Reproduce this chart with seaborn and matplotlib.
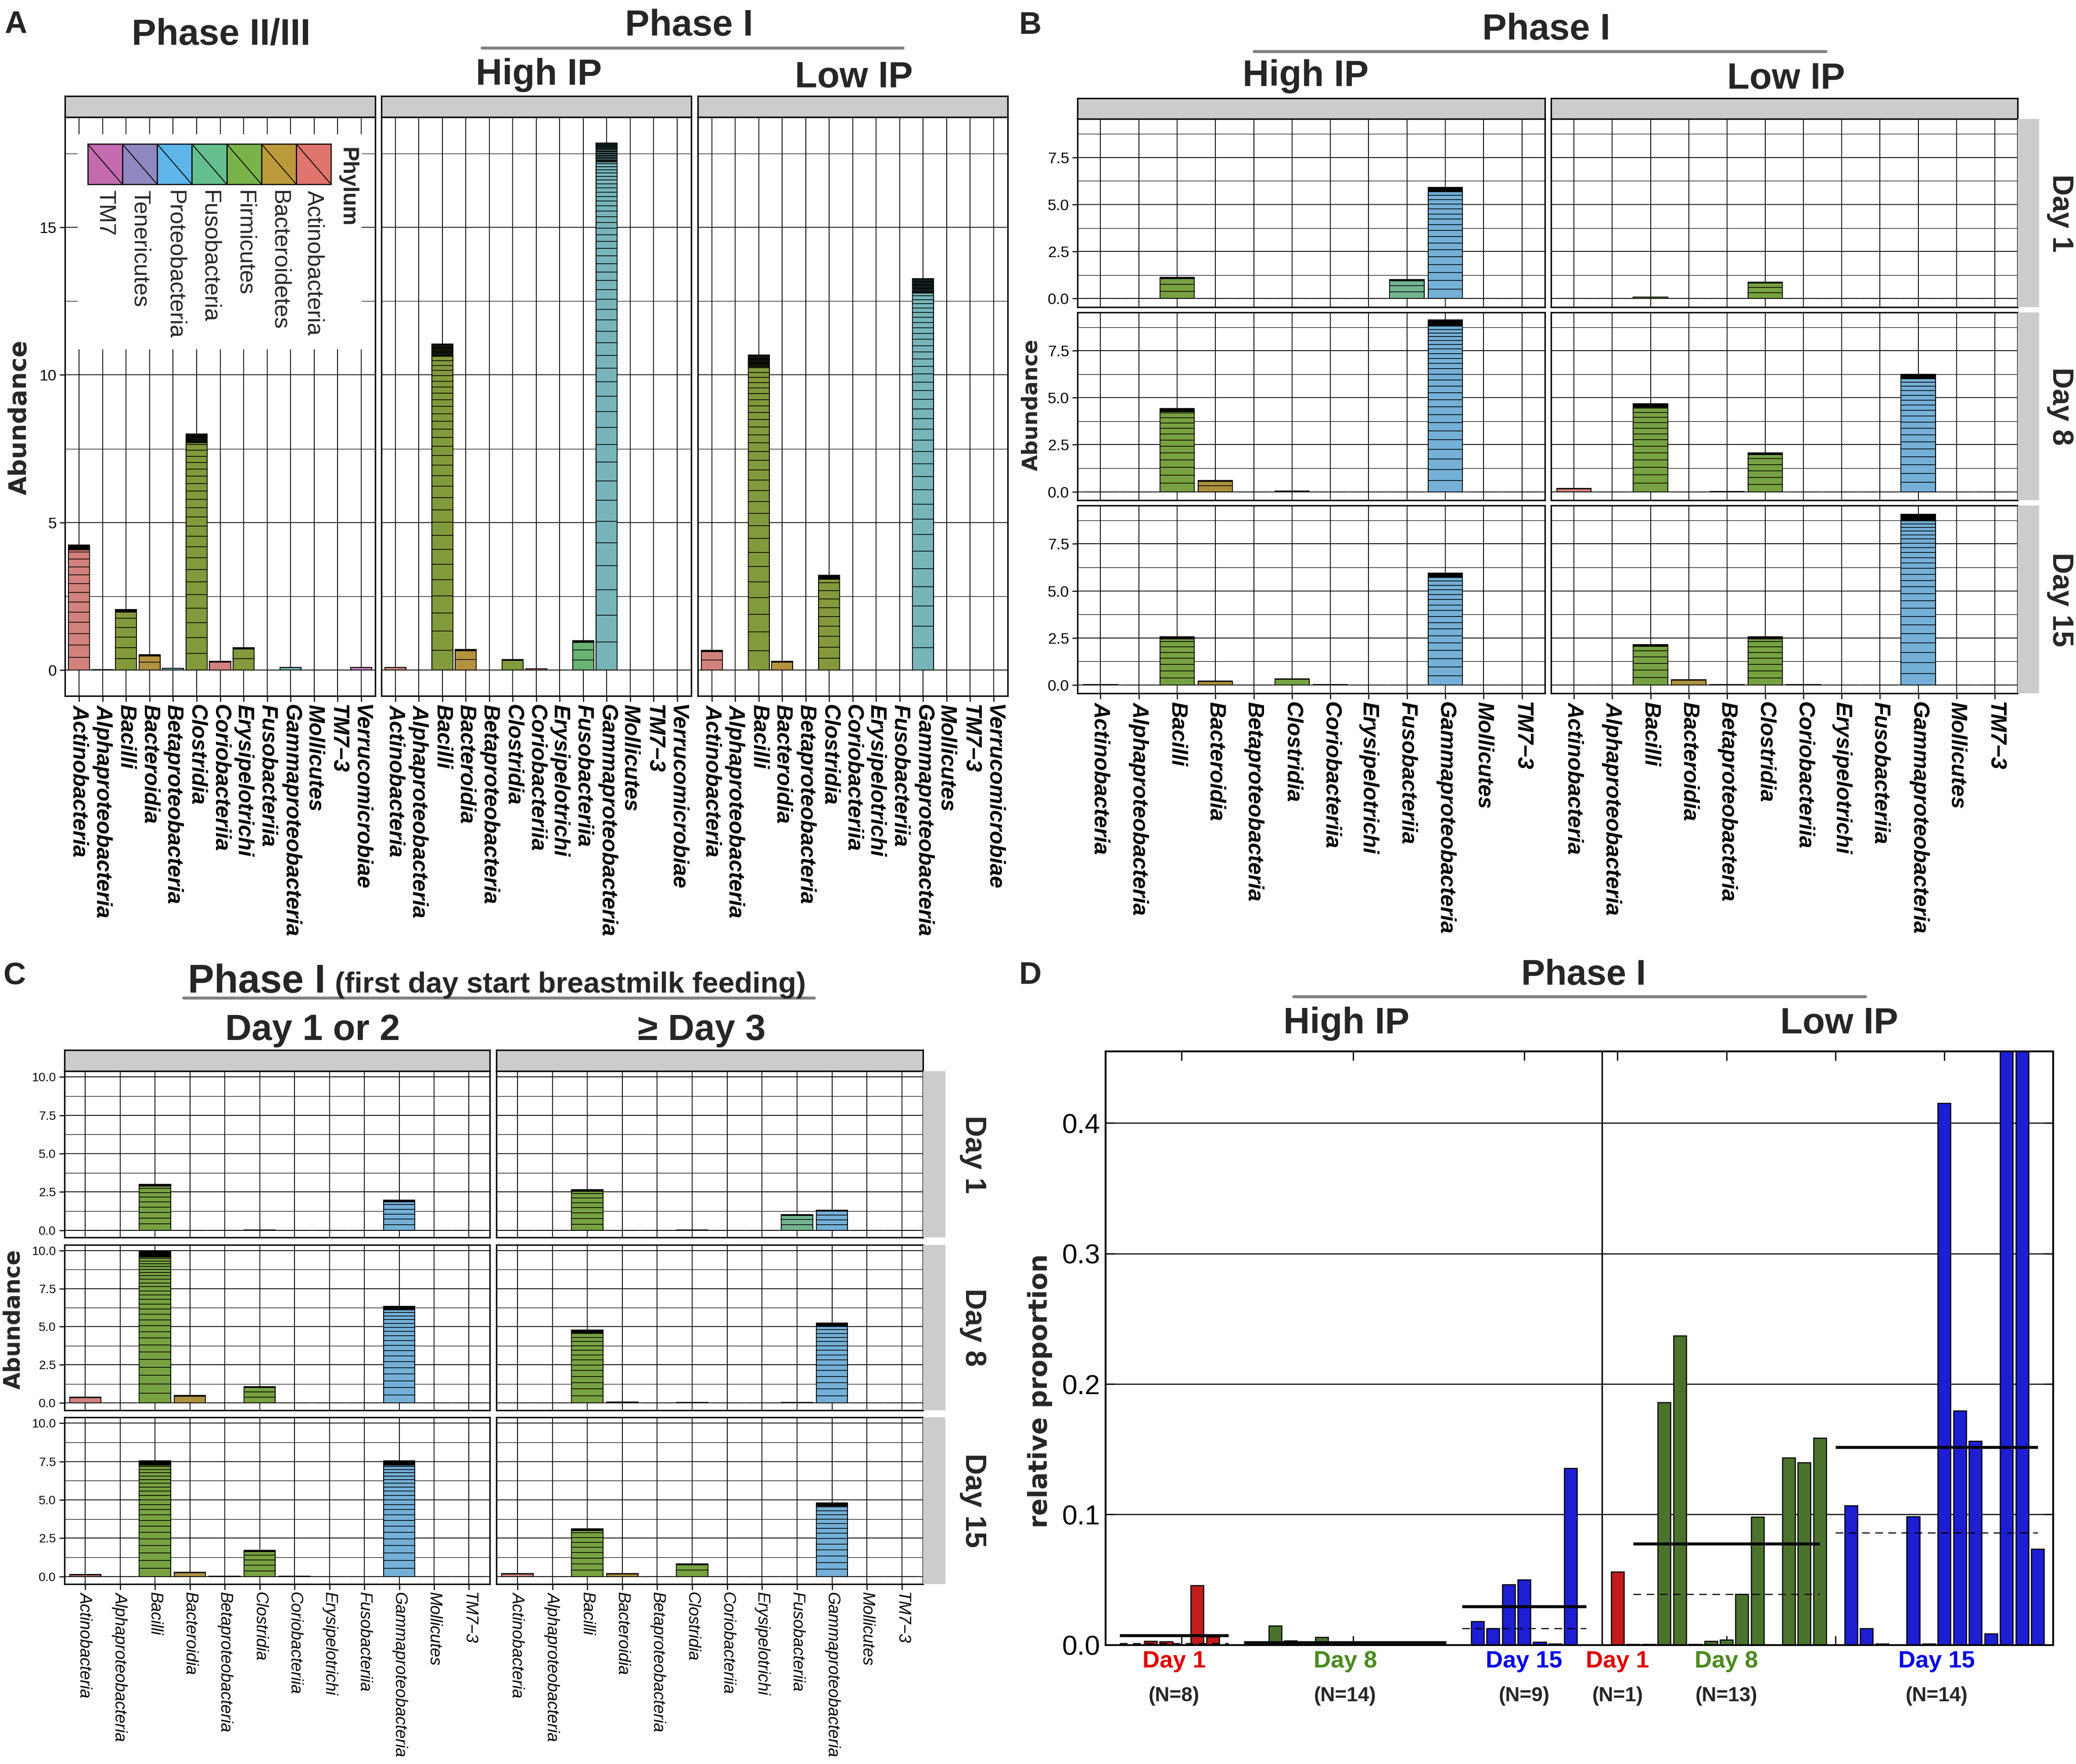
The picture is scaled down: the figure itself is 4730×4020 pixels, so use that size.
import numpy as np
import pandas as pd
import matplotlib
matplotlib.use("Agg")
import matplotlib.pyplot as plt
import seaborn as sns
from matplotlib import font_manager
from matplotlib.patches import Rectangle

sns.set_theme(style="white")
plt.rcParams["font.family"] = ["Liberation Sans", "DejaVu Sans"]

installed = {f.name for f in font_manager.fontManager.ttflist}
HAS_NARROW = "Liberation Sans Narrow" in installed
NARROW = "Liberation Sans Narrow" if HAS_NARROW else "Liberation Sans"
HEAD = [NARROW, "DejaVu Sans"]
# heading sizes tuned to the reference widths (smaller if no narrow face)
HS = 1.0 if not HAS_NARROW else 1.12

# ---------------- data ----------------
classes_a = ["Actinobacteria", "Alphaproteobacteria", "Bacilli", "Bacteroidia",
             "Betaproteobacteria", "Clostridia", "Coriobacteriia", "Erysipelotrichi",
             "Fusobacteriia", "Gammaproteobacteria", "Mollicutes", "TM7\u22123",
             "Verrucomicrobiae"]
phylum_a = ["Actinobacteria", "Proteobacteria", "Firmicutes", "Bacteroidetes",
            "Proteobacteria", "Firmicutes", "Actinobacteria", "Firmicutes",
            "Fusobacteria", "Proteobacteria", "Tenericutes", "TM7", "Verrucomicrobia"]
a_phase23 = [4.24, 0.01, 2.06, 0.52, 0.06, 8.0, 0.3, 0.76, 0.0, 0.09, 0.0, 0.0, 0.09]
a_high = [0.09, 0.0, 11.05, 0.7, 0.0, 0.36, 0.04, 0.0, 1.0, 17.86, 0.0, 0.0, 0.0]
a_low = [0.67, 0.0, 10.67, 0.3, 0.0, 3.21, 0.0, 0.0, 0.0, 13.26, 0.0, 0.0, 0.0]

classes_bc = classes_a[:12]
phylum_bc = phylum_a[:12]
b_high_d1 = [0, 0, 1.12, 0, 0, 0.02, 0, 0, 1.0, 5.9, 0, 0]
b_low_d1 = [0, 0, 0.08, 0, 0, 0.88, 0, 0, 0, 0.02, 0, 0]
b_high_d8 = [0, 0, 4.43, 0.6, 0, 0.04, 0, 0, 0, 9.14, 0, 0]
b_low_d8 = [0.19, 0, 4.69, 0, 0.02, 2.07, 0, 0, 0, 6.24, 0, 0]
b_high_d15 = [0.02, 0, 2.57, 0.21, 0, 0.33, 0.03, 0, 0, 5.95, 0, 0]
b_low_d15 = [0, 0, 2.14, 0.29, 0.02, 2.57, 0.02, 0, 0, 9.07, 0, 0]

c_early_d1 = [0, 0, 3.0, 0, 0, 0.03, 0, 0, 0, 1.95, 0, 0]
c_late_d1 = [0, 0, 2.66, 0, 0, 0.03, 0, 0, 1.02, 1.3, 0, 0]
c_early_d8 = [0.38, 0, 9.93, 0.48, 0, 1.06, 0, 0, 0, 6.34, 0, 0]
c_late_d8 = [0, 0, 4.79, 0.05, 0, 0.02, 0, 0, 0.02, 5.24, 0, 0]
c_early_d15 = [0.14, 0, 7.53, 0.27, 0.01, 1.71, 0.01, 0, 0, 7.53, 0, 0]
c_late_d15 = [0.2, 0, 3.12, 0.2, 0, 0.82, 0, 0, 0, 4.79, 0, 0]

d_high_day1 = [0.0003, 0.0003, 0.0029, 0.0026, 0.0, 0.0456, 0.0064, 0.0]
d_high_day8 = [0.0004, 0.0004, 0.0147, 0.0032, 0.0004, 0.0059, 0.0004,
               0.0, 0.0, 0.0002, 0.0004, 0.0004, 0.0, 0.0]
d_high_day15 = [0.0003, 0.0182, 0.0129, 0.0462, 0.0501, 0.0022, 0.0009, 0.1355, 0.0]
d_low_day1 = [0.056]
d_low_day8 = [0.0005, 0.0005, 0.186, 0.237, 0.0005, 0.003, 0.004, 0.039, 0.098,
              0.0, 0.1436, 0.14, 0.1587]
d_low_day15 = [0.0, 0.107, 0.0129, 0.001, 0.0, 0.0986, 0.001, 0.4153, 0.1795,
               0.1562, 0.0086, 0.55, 0.52, 0.0735]

legend_phyla = ["TM7", "Tenericutes", "Proteobacteria", "Fusobacteria",
                "Firmicutes", "Bacteroidetes", "Actinobacteria"]
legend_colors = ["#C46BAE", "#8F87C0", "#5EB5E8", "#64BE8F", "#7BB34B", "#BB9A3C", "#E0756E"]

pal_a = {"Actinobacteria": "#E0766F", "Proteobacteria": "#6CBFC4", "Firmicutes": "#8BAA2C",
         "Bacteroidetes": "#C79B2D", "Fusobacteria": "#5DBE6B", "Tenericutes": "#9A8FD0",
         "TM7": "#C66CB0", "Verrucomicrobia": "#D575CC"}
pal_bc = {"Actinobacteria": "#E0776F", "Proteobacteria": "#63B4E8", "Firmicutes": "#7AB232",
          "Bacteroidetes": "#BE9A2C", "Fusobacteria": "#67BF90", "Tenericutes": "#8F87C0",
          "TM7": "#C46BAE", "Verrucomicrobia": "#D575CC"}
day_pal = {"Day 1": "#DD0000", "Day 8": "#4A7F22", "Day 15": "#0000F0"}
day_text = {"Day 1": "#E00000", "Day 8": "#4A8A1E", "Day 15": "#0000E6"}
tick_pos_d = [4, 15, 26, 32, 39, 46, 53]

# ---------------- layout helpers (reference pixel grid 1568 x 1333) ----------------
W, H = 1568, 1333
fig = plt.figure(figsize=(4730 / 300, 4020 / 300), dpi=300)
fig.patch.set_facecolor("white")


def box(x0, y0, x1, y1):
    return fig.add_axes([x0 / W, 1 - y1 / H, (x1 - x0) / W, (y1 - y0) / H])


def ftext(x, y, s, **kw):
    return fig.text(x / W, 1 - y / H, s, **kw)


def head(x, y, s, size, ha="center"):
    return ftext(x, y, s, ha=ha, va="baseline", fontsize=size * HS,
                 fontweight="bold", fontfamily=HEAD)


def gline(x0, x1, y):
    fig.add_artist(plt.Line2D([x0 / W, x1 / W], [1 - y / H, 1 - y / H],
                              color="#808080", lw=1.6, solid_capstyle="round"))


def strip(x0, y0, x1, y1, edge=True):
    s = box(x0, y0, x1, y1)
    s.set_facecolor("#CCCCCC")
    s.set_xticks([])
    s.set_yticks([])
    for sp in s.spines.values():
        sp.set_visible(edge)
        sp.set_color("black")
        sp.set_linewidth(0.8)
    return s


def facet(ax, values, classes, phyla, palette, ylim, major, minor, fmt,
          show_y, show_x, xfont, ysize):
    df = pd.DataFrame({"cls": classes, "val": values, "phylum": phyla})
    sns.barplot(data=df, x="cls", y="val", hue="phylum", palette=palette, order=classes,
                dodge=False, width=0.9, edgecolor="black", linewidth=0.5,
                errorbar=None, legend=False, ax=ax)
    # OTU stripes inside each bar
    for p in ax.patches:
        h = p.get_height()
        if h <= 0.12:
            continue
        n = max(1, int(round(3 * h)))
        seg = 0.95 ** np.arange(n)
        cuts = h * np.cumsum(seg)[:-1] / seg.sum()
        cap = h - np.linspace(0, 0.035 * h + 0.02, 18)
        x0, x1 = p.get_x(), p.get_x() + p.get_width()
        ax.hlines(np.r_[cuts, cap], x0, x1, color="black", lw=0.4, zorder=4)
    ax.set_ylim(*ylim)
    ax.set_xlim(-0.6, len(classes) - 0.4)
    ax.set_yticks(major)
    ax.set_yticks(minor, minor=True)
    ax.grid(True, which="major", color="black", lw=0.45)
    ax.grid(True, which="minor", axis="y", color="black", lw=0.3)
    ax.set_axisbelow(True)
    ax.set_xlabel("")
    ax.set_ylabel("")
    for sp in ax.spines.values():
        sp.set_color("black")
        sp.set_linewidth(0.8)
    ax.tick_params(which="major", direction="out", length=3, width=0.6,
                   colors="black", bottom=show_x, left=show_y, pad=1.5)
    ax.tick_params(which="minor", length=0)
    if show_y:
        ax.set_yticklabels([fmt.format(v) for v in major], fontsize=ysize)
    else:
        ax.set_yticklabels([])
    ax.set_xticks(range(len(classes)))
    if show_x:
        ax.set_xticklabels(classes, rotation=270, ha="center", va="top", **xfont)
    else:
        ax.set_xticklabels([])


# ---------------- panel A ----------------
font_a = dict(fontsize=12, fontweight="bold", fontstyle="italic", fontfamily="Liberation Sans")
a_cols = [(49, 283.5), (288, 522), (527, 761)]
for i, ((x0, x1), vals) in enumerate(zip(a_cols, [a_phase23, a_high, a_low])):
    strip(x0, 72.7, x1, 88.6)
    ax = box(x0, 88.6, x1, 526)
    facet(ax, vals, classes_a, phylum_a, pal_a, (-0.88, 18.73), [0, 5, 10, 15],
          [2.5, 7.5, 12.5, 17.5], "{:g}", i == 0, True, font_a, 8.5)

# rotated phylum legend
lg = box(58.8, 101.5, 273, 263.8)
lg.set_zorder(6)
lg.set_facecolor("white")
lg.set_xticks([])
lg.set_yticks([])
for sp in lg.spines.values():
    sp.set_visible(False)
lg.set_xlim(0, 214.2)
lg.set_ylim(162.3, 0)
sw = (250.1 - 66.2) / len(legend_phyla)
for k, (name, col) in enumerate(zip(legend_phyla, legend_colors)):
    lx = 7.4 + k * sw
    lg.add_patch(Rectangle((lx, 7.4), sw, 30.4, facecolor=col, edgecolor="black", lw=0.6))
    lg.plot([lx, lx + sw], [7.4, 37.8], color="black", lw=0.5)
    lg.text(lx + sw / 2, 42.5, name, rotation=270, ha="center", va="top",
            fontsize=12.5, fontfamily="Liberation Sans")
lg.text(203.5, 10, "Phylum", rotation=270, ha="center", va="top",
        fontsize=12, fontweight="bold", fontfamily="Liberation Sans")

ftext(14.7, 315.5, "Abundance", rotation=90, ha="center", va="center",
      fontsize=13.5, fontweight="bold", fontfamily="DejaVu Sans")
ftext(12, 25, "A", ha="center", va="baseline", fontsize=17, fontweight="bold", fontfamily=HEAD)
head(167, 33.8, "Phase II/III", 20)
head(520.5, 27, "Phase I", 20)
gline(364, 682, 36.2)
head(407, 64, "High IP", 20)
head(645, 66, "Low IP", 20)

# ---------------- panel B ----------------
font_b = dict(fontsize=12, fontweight="bold", fontstyle="italic", fontfamily="Liberation Sans")
b_cols = [(813.8, 1166.9), (1171.5, 1524)]
b_rows = [(90, 232), (236, 378), (382, 524)]
b_vals = [[b_high_d1, b_low_d1], [b_high_d8, b_low_d8], [b_high_d15, b_low_d15]]
row_names = ["Day 1", "Day 8", "Day 15"]
for (x0, x1) in b_cols:
    strip(x0, 74.4, x1, 90)
for r, (y0, y1) in enumerate(b_rows):
    for c, (x0, x1) in enumerate(b_cols):
        ax = box(x0, y0, x1, y1)
        facet(ax, b_vals[r][c], classes_bc, phylum_bc, pal_bc, (-0.45, 9.54),
              [0, 2.5, 5, 7.5], [1.25, 3.75, 6.25, 8.75], "{:.1f}",
              c == 0, r == 2, font_b, 8.5)
    strip(1524, y0, 1540, y1, edge=False)
    ftext(1556, (y0 + y1) / 2, row_names[r], rotation=270, ha="center", va="center",
          fontsize=16, fontweight="bold", fontfamily="Liberation Sans")

ftext(779, 306, "Abundance", rotation=90, ha="center", va="center",
      fontsize=11.5, fontweight="bold", fontfamily="DejaVu Sans")
ftext(778, 25.4, "B", ha="center", va="baseline", fontsize=17, fontweight="bold", fontfamily=HEAD)
head(1168, 29.8, "Phase I", 20)
gline(947, 1379, 38.9)
head(986, 65, "High IP", 20)
head(1349, 67, "Low IP", 20)

# ---------------- panel C ----------------
if HAS_NARROW:
    font_c = dict(fontsize=10.8, fontstyle="italic", fontfamily="Liberation Sans Narrow")
else:
    font_c = dict(fontsize=9.1, fontstyle="italic", fontfamily="Liberation Sans")
c_cols = [(48.6, 370), (375, 697)]
c_rows = [(809.5, 935.2), (940.7, 1065.6), (1071.1, 1196.9)]
c_vals = [[c_early_d1, c_late_d1], [c_early_d8, c_late_d8], [c_early_d15, c_late_d15]]
for (x0, x1) in c_cols:
    strip(x0, 793.6, x1, 809.5)
for r, (y0, y1) in enumerate(c_rows):
    for c, (x0, x1) in enumerate(c_cols):
        ax = box(x0, y0, x1, y1)
        facet(ax, c_vals[r][c], classes_bc, phylum_bc, pal_bc, (-0.48, 10.37),
              [0, 2.5, 5, 7.5, 10], [1.25, 3.75, 6.25, 8.75], "{:.1f}",
              c == 0, r == 2, font_c, 6.8)
    strip(697, y0, 714, y1, edge=False)
    ftext(735, (y0 + y1) / 2, row_names[r], rotation=270, ha="center", va="center",
          fontsize=16, fontweight="bold", fontfamily="Liberation Sans")

ftext(10.5, 997, "Abundance", rotation=90, ha="center", va="center",
      fontsize=12.2, fontweight="bold", fontfamily="DejaVu Sans")
ftext(11, 744, "C", ha="center", va="baseline", fontsize=17, fontweight="bold", fontfamily=HEAD)
t_phase = head(142, 750, "Phase I", 21.5, ha="left")
renderer = fig.canvas.get_renderer()
ext = t_phase.get_window_extent(renderer)
fig.text(ext.x1 / fig.bbox.width + 7 / W, 1 - 750 / H, "(first day start breastmilk feeding)",
         ha="left", va="baseline", fontsize=16 * HS, fontweight="bold", fontfamily=HEAD)
gline(138.5, 615, 754.1)
head(236, 786, "Day 1 or 2", 20)
head(530, 786, "\u2265 Day 3", 20)

# ---------------- panel D ----------------
d_groups = [("High IP", "Day 1", d_high_day1), ("High IP", "Day 8", d_high_day8),
            ("High IP", "Day 15", d_high_day15), ("Low IP", "Day 1", d_low_day1),
            ("Low IP", "Day 8", d_low_day8), ("Low IP", "Day 15", d_low_day15)]
records = []
pos = 0
prev = None
for ip, day, vals in d_groups:
    if prev is not None and ip != prev:
        pos += 1          # empty slot between High IP and Low IP
    prev = ip
    for v in vals:
        records.append({"ip": ip, "day": day, "pos": pos, "val": v})
        pos += 1
dfd = pd.DataFrame(records)

axd = box(835.2, 794.4, 1550.8, 1243.1)
sns.barplot(data=dfd, x="pos", y="val", hue="day", palette=day_pal, native_scale=True,
            dodge=False, width=0.82, edgecolor="black", linewidth=0.6,
            errorbar=None, legend=False, ax=axd)
for (ip, day), g in dfd.groupby(["ip", "day"], sort=False):
    x0, x1 = g["pos"].min(), g["pos"].max()
    axd.hlines(g["val"].mean(), x0, x1, color="black", lw=1.6, zorder=5)
    axd.hlines(g["val"].median(), x0, x1, color="black", lw=0.6,
               linestyles=(0, (7, 5)), zorder=5)
    cx = (x0 + x1) / 2
    axd.text(cx, -0.038, day, transform=axd.get_xaxis_transform(), ha="center",
             va="baseline", fontsize=13, fontweight="bold", color=day_text[day], fontfamily=HEAD)
    axd.text(cx, -0.095, f"(N={len(g)})", transform=axd.get_xaxis_transform(),
             ha="center", va="baseline", fontsize=11, fontweight="bold", fontfamily=HEAD)

hi_last = dfd.loc[dfd["ip"] == "High IP", "pos"].max()
lo_first = dfd.loc[dfd["ip"] == "Low IP", "pos"].min()
axd.axvline((hi_last + lo_first) / 2, color="black", lw=0.8)
axd.set_xlim(-0.88, 60.0)
axd.set_ylim(0, 0.455)
axd.set_yticks([0.0, 0.1, 0.2, 0.3, 0.4])
axd.set_yticklabels(["0.0", "0.1", "0.2", "0.3", "0.4"], fontsize=15, fontfamily=HEAD)
axd.set_xticks(tick_pos_d)
axd.set_xticklabels([])
axd.grid(True, axis="y", color="black", lw=0.6)
axd.set_axisbelow(True)
axd.set_xlabel("")
axd.set_ylabel("")
for sp in axd.spines.values():
    sp.set_color("black")
    sp.set_linewidth(1.0)
axd.tick_params(axis="x", direction="in", length=5, width=0.7, top=True, bottom=True, colors="black")
axd.tick_params(axis="y", direction="in", length=5, width=0.7, left=True, right=True,
                colors="black", pad=3)

ftext(785.5, 1051, "relative proportion", rotation=90, ha="center", va="center",
      fontsize=14, fontweight="bold", fontfamily="DejaVu Sans")
ftext(778, 743.4, "D", ha="center", va="baseline", fontsize=17, fontweight="bold", fontfamily=HEAD)
head(1196, 744.2, "Phase I", 19.5)
gline(977, 1409, 753)
head(1017, 781, "High IP", 20)
head(1389, 781, "Low IP", 20)

fig.savefig("out.png", dpi=300, facecolor="white")
